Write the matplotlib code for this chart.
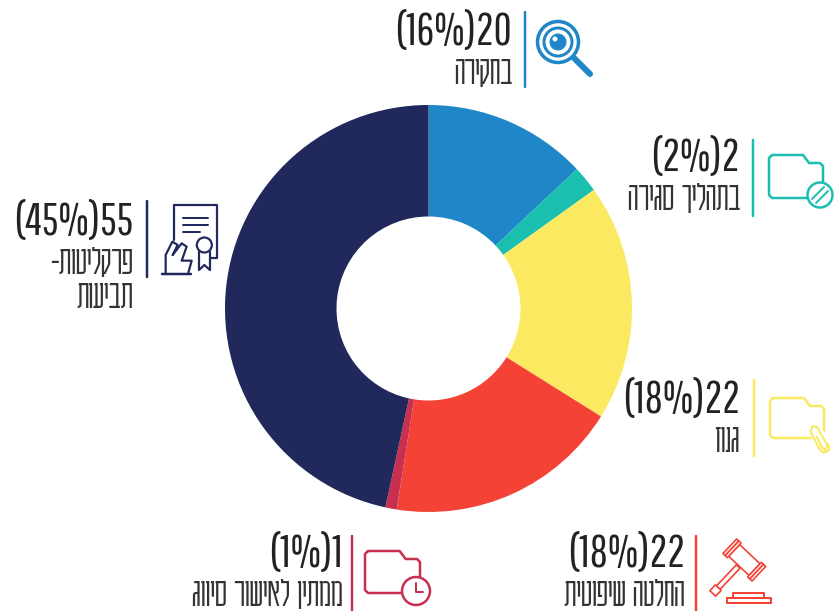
import matplotlib
matplotlib.use('Agg')
import numpy as np
import matplotlib.pyplot as plt
from matplotlib.patches import Circle, Polygon

plt.rcParams['font.family'] = ['Karantina', 'Liberation Sans', 'DejaVu Sans']
plt.rcParams['font.weight'] = 300
count_font = ['Pathway Gothic One', 'Oswald', 'Karantina', 'Liberation Sans']

# wedge shares as measured on the ring, clockwise from 12 o'clock
shares = [13.0, 2.1, 18.8, 18.6, 0.9, 46.6]
colors = ['#1F86C8', '#1ABFB0', '#FBE961', '#F44336', '#C92F4F', '#21285C']
counts = ['(16%)20', '(2%)2', '(18%)22', '(18%)22', '(1%)1', '(45%)55']
# hebrew, typed in visual order because matplotlib has no bidi
names = ['הריקחב', 'הריגס ךילהתב', 'זונג', 'תיטופיש הטלחה', 'גוויס רושיאל ןיתממ', '-תוטילקרפ\nתועיבת']
text_right = [512, 740, 740, 685, 343, 133]
count_y = [33, 159, 401, 555, 555, 223]
sep_x = [525, 753, 754, 696, 352, 147]
sep_y = [(12, 87), (140, 216), (380, 456), (536, 611), (536, 611), (201, 277)]

fig = plt.figure(figsize=(8.34, 6.11), dpi=100)
ax = fig.add_axes([0, 0, 1, 1])
ax.pie(shares, colors=colors, center=(428.5, 308.5), radius=203.5, startangle=-90,
       wedgeprops=dict(width=111.5))
ax.set_xlim(0, 834)
ax.set_ylim(611, 0)
ax.axis('off')


def line(pts, c, lw=2.0, z=3):
    xs, ys = zip(*pts)
    ax.plot(xs, ys, color=c, lw=lw * 0.72, solid_capstyle='round', solid_joinstyle='round', zorder=z)


def zline(pts, ox, oy, c, lw=2.0):
    line([(ox + a / 3, oy + b / 3) for a, b in pts], c, lw)


def circ(x, y, r, c, lw=2.0, fill='white'):
    ax.add_patch(Circle((x, y), r, fc=fill, ec=c, lw=lw * 0.72, zorder=4))


def folder(x0, y0, x1, y1, c, lw=2.5):
    t = x0 + (x1 - x0) * 0.63
    line([(x0 + 3, y0), (t, y0), (t + 6, y0 + 8), (x1 - 3, y0 + 8), (x1, y0 + 11), (x1, y1 - 3),
          (x1 - 3, y1), (x0 + 3, y1), (x0, y1 - 3), (x0, y0 + 3), (x0 + 3, y0)], c, lw)


for c, cnt, nm, xr, y, sx, sy in zip(colors, counts, names, text_right, count_y, sep_x, sep_y):
    ax.text(xr, y, cnt, ha='right', va='center', fontsize=31.5, color='#222222', family=count_font)
    ax.text(xr, y + 39, nm.split('\n')[0], ha='right', va='center', fontsize=29.5, color='#333333')
    if '\n' in nm:
        ax.text(xr, y + 73, nm.split('\n')[1], ha='right', va='center', fontsize=29.5, color='#333333')
    line([(sx, sy[0]), (sx, sy[1])], c, 2.5)

# magnifier
c = colors[0]
line([(574, 58), (590, 74)], c, 6)
circ(558, 42, 20.5, c, 3.5)
circ(558, 42, 14, c, 3)
circ(558, 42, 8, c, 1, c)
circ(555, 39, 2.2, 'white', 0.5, 'white')

# folder with no-entry sign
c = colors[1]
folder(769, 155, 823, 198, c)
circ(820, 195, 12.5, c, 2.5)
line([(812, 199), (824, 187)], c, 2, 5)
line([(816, 203), (828, 191)], c, 2, 5)

# folder with clock
c = colors[4]
folder(365, 551, 420, 593, c)
circ(416, 591, 14, c, 2.5)
line([(416, 583), (416, 592), (423, 592)], c, 2, 5)

# folder with paper clip
c = colors[2]
folder(770, 398, 824, 438, c)
ax.add_patch(Polygon([(806, 428), (816, 420), (834, 446), (822, 456)], fc='white', ec='none', zorder=3.5))
clip = [(590, 200), (606, 232), (616, 240), (622, 226), (592, 172), (578, 168), (572, 185), (600, 240), (612, 248), (627, 240), (625, 222)]
xs = [620 + a / 3 for a, b in clip]
ys = [370 + b / 3 for a, b in clip]
ax.plot(xs, ys, color=c, lw=1.5, zorder=4, solid_joinstyle='round', solid_capstyle='round')

# gavel, local coords along the head (u) and along the handle (v)
c = colors[3]
cx, cy = 540 + 613 / 3, 525 + 105 / 3
eu = np.array([0.727, 0.686])
ev = np.array([-0.686, 0.727])


def gavel_box(u0, u1, v0, v1):
    corners = [(u0, v0), (u1, v0), (u1, v1), (u0, v1)]
    pts = [(cx + a * eu[0] + b * ev[0], cy + a * eu[1] + b * ev[1]) for a, b in corners]
    ax.add_patch(Polygon(pts, fc='white', ec=c, lw=1.2, zorder=3, joinstyle='round'))


gavel_box(-2.5, 2.5, 9, 38)
gavel_box(-4, 4, 38, 46)
gavel_box(-14, 14, -8, 8)
gavel_box(-20, -17, -10, 10)
gavel_box(-17, -14, -10, 10)
gavel_box(14, 17, -10, 10)
gavel_box(17, 20, -10, 10)
zline([(580, 220), (580, 205), (673, 205), (673, 220)], 540, 525, c, 2)
zline([(560, 220), (693, 220), (693, 235), (560, 235), (560, 220)], 540, 525, c, 2)

# certificate and hand
c = colors[5]
ox, oy = 0, 190
zline([(523, 150), (523, 45), (650, 45), (650, 205), (632, 205)], ox, oy, c, 2.2)
zline([(550, 85), (625, 85)], ox, oy, c, 2)
zline([(550, 105), (625, 105)], ox, oy, c, 2)
zline([(550, 125), (600, 125)], ox, oy, c, 2)
zline([(597, 185), (597, 240), (613, 225), (630, 240), (630, 185)], ox, oy, c, 2.2)
circ(ox + 613 / 3, oy + 165 / 3, 7.5, c, 2.2)
zline([(487, 252), (572, 252)], ox, oy, c, 2.5)
zline([(497, 248), (497, 195), (517, 155), (533, 165), (518, 195)], ox, oy, c, 2.2)
zline([(518, 195), (545, 160), (560, 170), (545, 212), (575, 212), (565, 248)], ox, oy, c, 2.2)

fig.savefig('out.png', dpi=100)
